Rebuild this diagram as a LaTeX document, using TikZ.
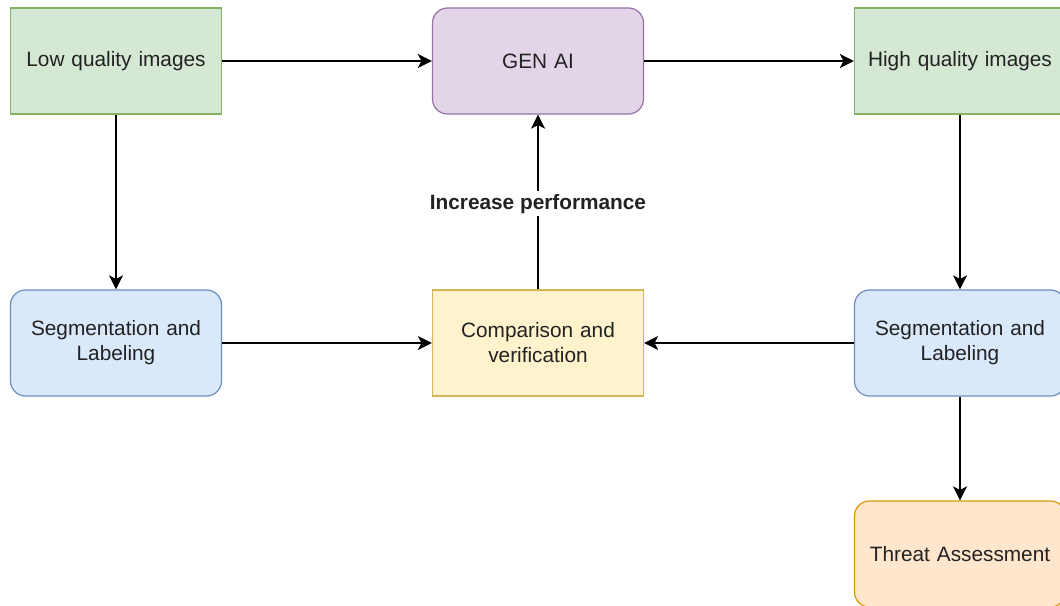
\documentclass[tikz,border=0pt]{standalone}
\usepackage{fontspec}
\setmainfont{Liberation Sans}
\usetikzlibrary{arrows.meta}
\definecolor{gfill}{HTML}{D5E8D4}\definecolor{gdraw}{HTML}{82B366}
\definecolor{pfill}{HTML}{E1D5E7}\definecolor{pdraw}{HTML}{9673A6}
\definecolor{bfill}{HTML}{DAE8FC}\definecolor{bdraw}{HTML}{6C8EBF}
\definecolor{yfill}{HTML}{FFF2CC}\definecolor{ydraw}{HTML}{D6B656}
\definecolor{ofill}{HTML}{FFE6CC}\definecolor{odraw}{HTML}{D79B00}
\definecolor{txt}{HTML}{222222}
\tikzset{
  box/.style={minimum width=211pt, minimum height=106pt, inner sep=2pt, line width=1.2pt,
    align=center, text width=200pt, font=\fontsize{20.8}{25}\selectfont, text=txt},
  greenbox/.style={box, fill=gfill, draw=gdraw},
  purplebox/.style={box, fill=pfill, draw=pdraw, rounded corners=15pt},
  bluebox/.style={box, fill=bfill, draw=bdraw, rounded corners=15pt},
  yellowbox/.style={box, fill=yfill, draw=ydraw},
  orangebox/.style={box, fill=ofill, draw=odraw, rounded corners=15pt},
  conn/.style={line width=1.5pt, -{Stealth[length=14pt, width=14pt, inset=3.5pt]}},
  lbl/.style={fill=white, font=\bfseries\fontsize{20.8}{25}\selectfont, text=txt, inner sep=3pt}
}
\begin{document}
\begin{tikzpicture}[x=1pt, y=-1pt]
\useasboundingbox (0,0) rectangle (1060,605);
\clip (0,0) rectangle (1060,605);
\fill[white] (0,0) rectangle (1060,605);
\node[greenbox] (low) at (116,61) {Low quality images};
\node[purplebox] (gen) at (538,61) {GEN AI};
\node[greenbox] (high) at (960,61) {High quality images};
\node[bluebox] (segl) at (116,343) {Segmentation and\\Labeling};
\node[yellowbox] (comp) at (538,343) {Comparison and\\verification};
\node[bluebox] (segr) at (960,343) {Segmentation and\\Labeling};
\node[orangebox] (threat) at (960,554) {Threat Assessment};
\draw[conn] (low) -- (gen);
\draw[conn] (gen) -- (high);
\draw[conn] (low) -- (segl);
\draw[conn] (high) -- (segr);
\draw[conn] (segl) -- (comp);
\draw[conn] (segr) -- (comp);
\draw[conn] (segr) -- (threat);
\draw[conn] (comp) -- node[lbl, pos=0.49] (inc) {Increase performance} (gen);
\end{tikzpicture}
\end{document}
